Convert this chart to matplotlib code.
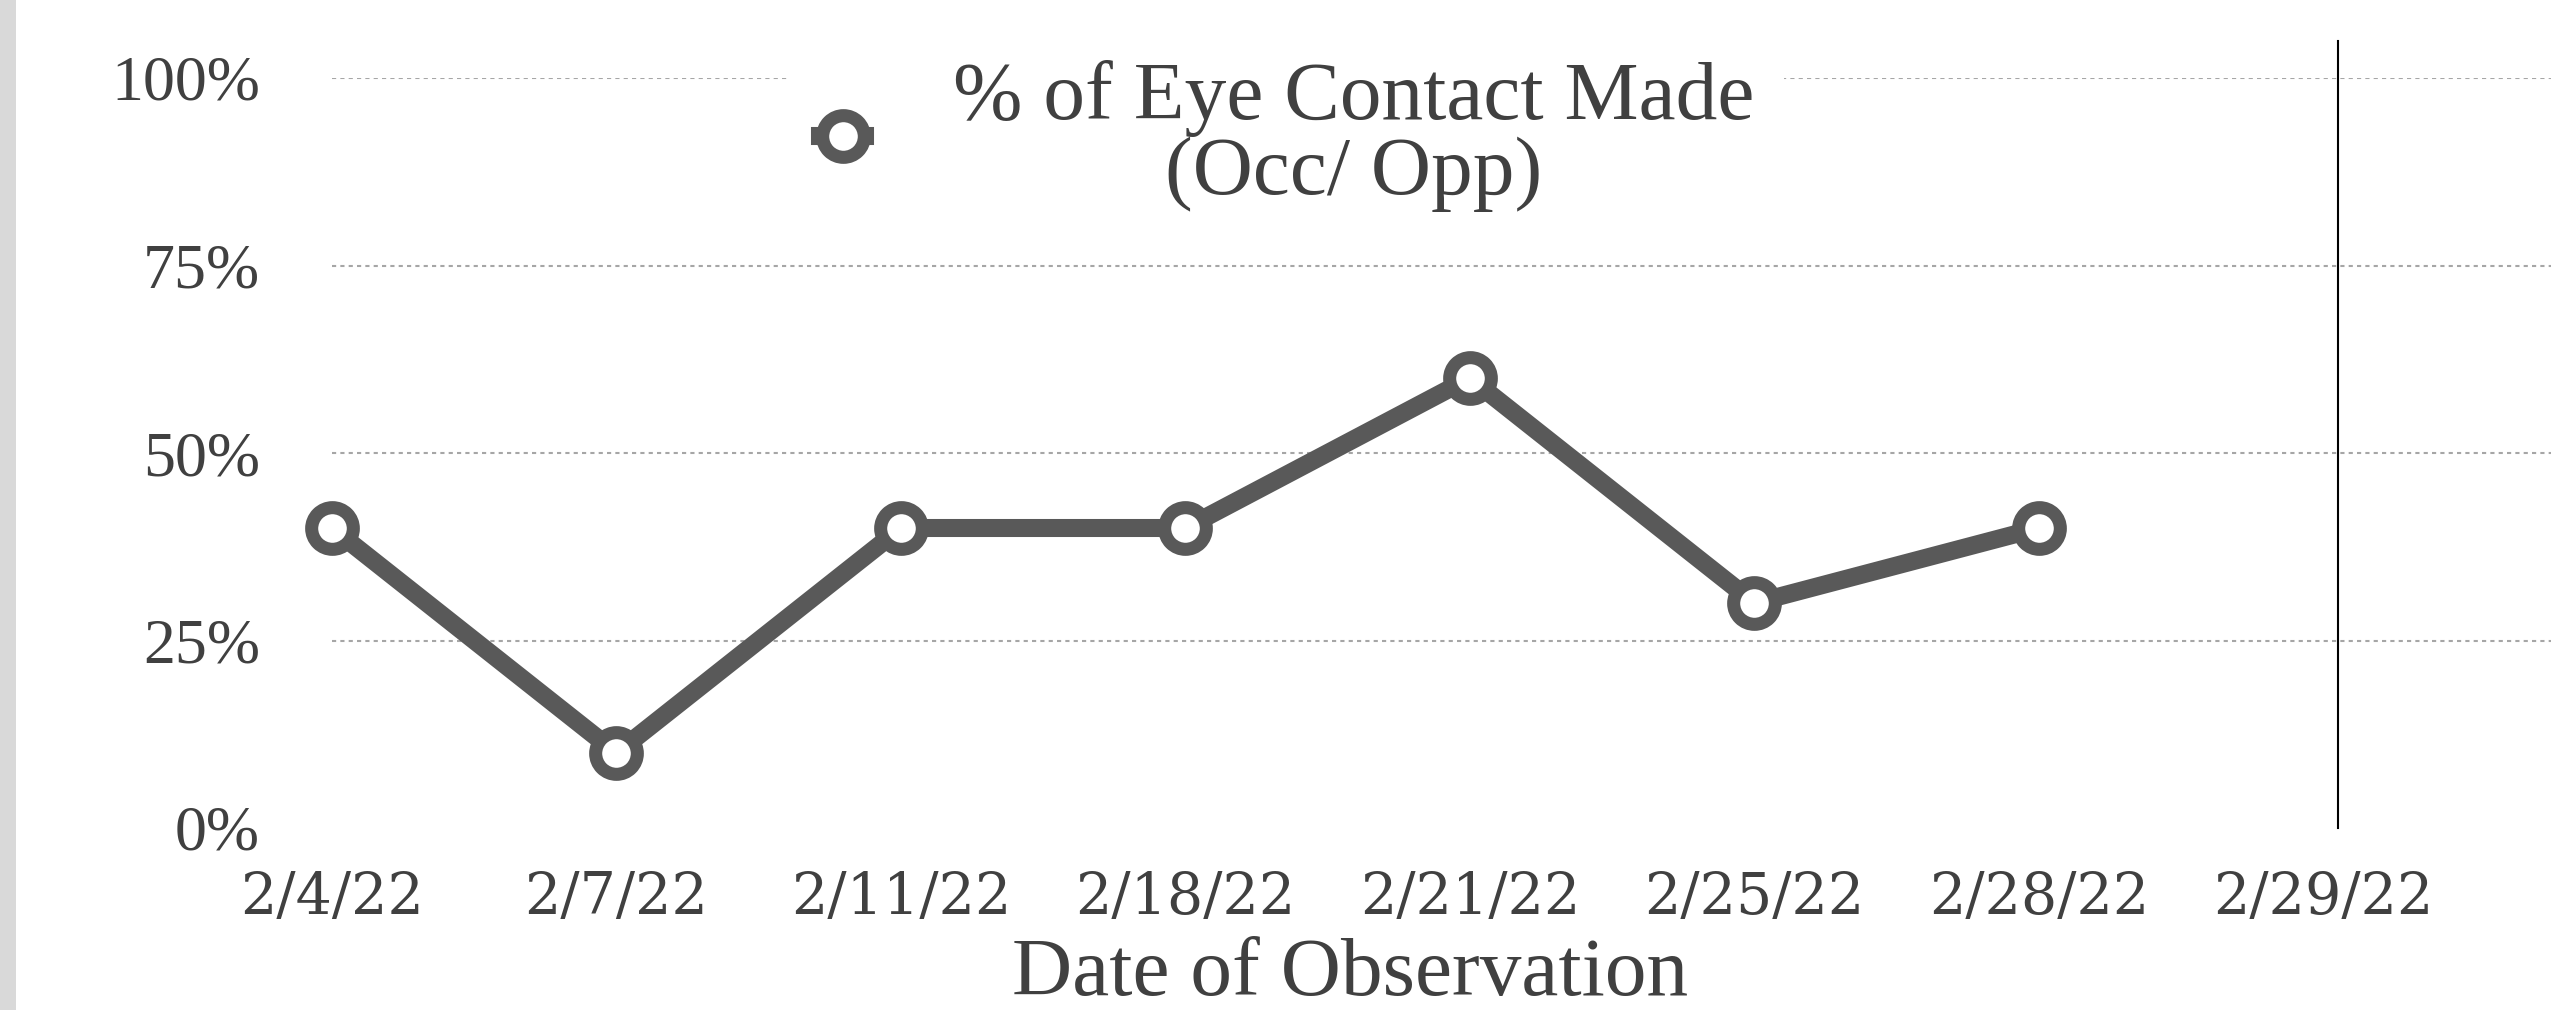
import numpy as np
import matplotlib
matplotlib.use("Agg")
import matplotlib.pyplot as plt
from matplotlib.lines import Line2D
from matplotlib.patches import Rectangle
from matplotlib.ticker import FixedLocator, PercentFormatter

# ---- data ----
dates = ["2/4/22", "2/7/22", "2/11/22", "2/18/22", "2/21/22", "2/25/22", "2/28/22", "2/29/22"]
eye_contact_pct = [0.40, 0.10, 0.40, 0.40, 0.60, 0.30, 0.40]
y_ticks = [0.0, 0.25, 0.50, 0.75, 1.00]
series_label = "% of Eye Contact Made\n(Occ/ Opp)"
x_title = "Date of Observation"
phase_line_x = 7.05

LINE_COLOR = "#595959"
TEXT_COLOR = "#404040"
GRID_COLOR = "#a6a6a6"
FONT = ["Liberation Serif", "DejaVu Serif"]

plt.rcParams["font.family"] = FONT

W, H, DPI = 2551, 1010, 100
fig = plt.figure(figsize=(W / DPI, H / DPI), dpi=DPI)
fig.patch.set_facecolor("white")

# left gray strip
fig.patches.append(Rectangle((0, 0), 16 / W, 1, transform=fig.transFigure,
                             facecolor="#d9d9d9", edgecolor="none", zorder=0))

ax = fig.add_axes([332 / W, 1 - 828 / H, 1 - 332 / W, (828 - 78) / H])
ax.set_facecolor("white")

x = np.arange(len(eye_contact_pct))
ax.plot(x, eye_contact_pct, color=LINE_COLOR, linewidth=13,
        marker="o", markersize=30, markerfacecolor="white",
        markeredgecolor=LINE_COLOR, markeredgewidth=9.4,
        solid_joinstyle="round", solid_capstyle="round", zorder=4,
        clip_on=False)

# phase change line
ax.plot([phase_line_x, phase_line_x], [0, 1.05], color="black",
        linewidth=1.5, clip_on=False, zorder=3)

ax.set_xlim(0, 7.8)
ax.set_ylim(0, 1)
ax.xaxis.set_major_locator(FixedLocator(np.arange(len(dates))))
ax.set_xticklabels(dates, family=["DejaVu Serif"])
ax.yaxis.set_major_locator(FixedLocator(y_ticks))
ax.yaxis.set_major_formatter(PercentFormatter(1.0, decimals=0))

for yv in y_ticks[1:]:
    ax.axhline(yv, color=GRID_COLOR, linewidth=1.5, linestyle=(0, (2.0, 2.0)), zorder=1)

for s in ax.spines.values():
    s.set_visible(False)
ax.tick_params(axis="both", length=0, colors=TEXT_COLOR)
ax.tick_params(axis="x", labelsize=41, pad=30)
ax.tick_params(axis="y", labelsize=46, pad=52)

fig.text(1350 / W, 1 - 975 / H, x_title, ha="center", va="center",
         fontsize=60, color=TEXT_COLOR)

handle = Line2D([], [], color=LINE_COLOR, linewidth=13, marker="o",
                markersize=30, markerfacecolor="white",
                markeredgecolor=LINE_COLOR, markeredgewidth=9.4)
leg = ax.legend([handle], [series_label], loc="center",
                bbox_to_anchor=(1287 / W, 1 - 136 / H),
                bbox_transform=fig.transFigure, frameon=True,
                fontsize=60, handlelength=0.55, handletextpad=1.05,
                borderpad=0.35, fancybox=False, framealpha=1.0)
leg.get_frame().set_facecolor("white")
leg.get_frame().set_edgecolor("none")
leg.set_zorder(5)
for t in leg.get_texts():
    t.set_color(TEXT_COLOR)
    t.set_multialignment("center")
    t.set_linespacing(1.0)

fig.savefig("out.png", dpi=DPI, facecolor="white")
